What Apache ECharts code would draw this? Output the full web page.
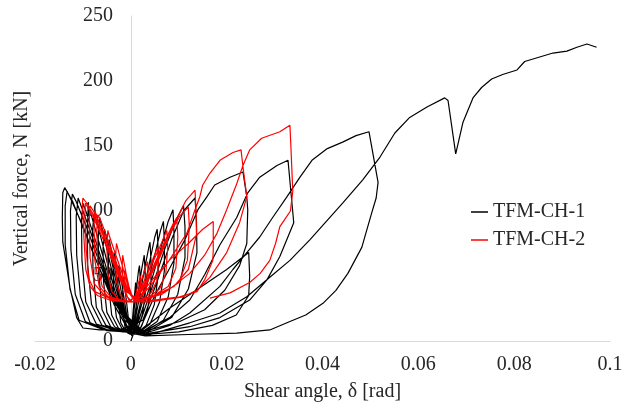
<!DOCTYPE html>
<html>
<head>
<meta charset="utf-8">
<script src="https://cdn.jsdelivr.net/npm/echarts@6/dist/echarts.min.js"></script>
<style>
html,body{margin:0;padding:0;background:#fff;}
#chart{width:629px;height:405px;}
</style>
</head>
<body>
<div id="chart"></div>
<script>
// ---- DATA (shear angle [rad], vertical force [kN]) ----
const seriesNames = ['TFM-CH-1', 'TFM-CH-2'];

// TFM-CH-1: small cycles
const ch1Small = [
[0,0],[0.0005,5],
[0.0003,15],[0.0007,32],[0.001,45],[0.0012,36],[0.0011,22],[0.0007,10],[0.0002,4],
[-0.0004,14],[-0.0009,30],[-0.0015,48],[-0.0017,38],[-0.0016,22],[-0.0012,10],[-0.0006,6],[0,5],
[0.0005,18],[0.0011,38],[0.0016,54],[0.0018,58],[0.002,46],[0.002,30],[0.0015,15],[0.0008,7],[0.0002,5],
[-0.0007,16],[-0.0015,35],[-0.0022,52],[-0.0025,58],[-0.0027,48],[-0.0026,30],[-0.0021,14],[-0.0012,8],[-0.0003,6],
[0.0006,14],[0.0014,34],[0.0022,54],[0.0028,66],[0.003,52],[0.003,36],[0.0024,20],[0.0014,9],[0.0004,5],
[-0.001,18],[-0.002,38],[-0.003,58],[-0.0035,68],[-0.0037,56],[-0.0036,36],[-0.003,18],[-0.0018,9],[-0.0005,6],
[0.0008,14],[0.0018,34],[0.003,58],[0.0037,71],[0.004,76],[0.0042,62],[0.0042,44],[0.0035,24],[0.0022,11],[0.0008,6],
[-0.0012,18],[-0.0025,40],[-0.0038,64],[-0.0045,78],[-0.0047,64],[-0.0046,42],[-0.004,20],[-0.0026,10],[-0.001,7],
[0.001,14],[0.0025,36],[0.004,62],[0.005,80],[0.0055,86],[0.0057,70],[0.0057,50],[0.0049,28],[0.0032,12],[0.0012,6],
[-0.0015,20],[-0.003,44],[-0.0045,70],[-0.0055,86],[-0.0058,72],[-0.0057,46],[-0.005,22],[-0.0034,11],[-0.0014,7]
];

// TFM-CH-1: medium cycles
const ch1Mid = [
[0.0012,14],[0.003,38],[0.005,66],[0.0062,85],[0.0068,92],[0.007,76],[0.007,54],[0.006,30],[0.004,13],[0.0015,6],
[-0.0018,22],[-0.0036,48],[-0.0052,74],[-0.0062,90],[-0.0065,95],[-0.0068,80],[-0.0067,52],[-0.006,24],[-0.0042,11],[-0.0018,7],
[0.0015,14],[0.0038,40],[0.006,68],[0.0078,92],[0.0088,101],[0.009,84],[0.009,60],[0.0078,34],[0.0055,15],[0.002,6],
[-0.002,22],[-0.0042,50],[-0.006,76],[-0.0072,93],[-0.0077,98],[-0.008,84],[-0.0079,56],[-0.0072,26],[-0.0052,12],[-0.0022,8],
[0.002,15],[0.0045,42],[0.007,70],[0.0093,92],[0.011,104],[0.0113,88],[0.0113,64],[0.0098,36],[0.0068,16],[0.0025,6],
[-0.0024,24],[-0.0048,52],[-0.0068,78],[-0.0082,96],[-0.0088,102],[-0.0091,88],[-0.009,58],[-0.0082,28],[-0.006,12],[-0.0026,8],
[0.0025,16],[0.0055,46],[0.0085,78],[0.011,100],[0.0134,110],[0.0137,92],[0.0138,68],[0.012,40],[0.0085,18],[0.003,6],
[-0.0028,26],[-0.0055,56],[-0.0078,82],[-0.0094,100],[-0.01,106],[-0.0103,92],[-0.0102,62],[-0.0094,30],[-0.0072,13],[-0.003,8]
];

// TFM-CH-1: large cycles
const ch1Large = [
[0.002,10],[0.005,35],[0.0081,56],[0.0113,78],[0.014,101],[0.0159,111],[0.0175,120],[0.0207,126],[0.0234,130],
[0.0242,111],[0.0244,101],[0.0242,75],[0.0227,58],[0.0196,39],[0.0154,24],[0.0102,15],[0.004,8.5],[0,6],
[-0.003,28],[-0.006,58],[-0.0086,86],[-0.0104,104],[-0.011,110],[-0.0114,96],[-0.0113,66],[-0.0105,34],[-0.0085,14],[-0.0045,8],[-0.001,7],
[0.002,8],[0.008,25],[0.014,40],[0.02,55],[0.0246,68],[0.0248,50],[0.0246,35],[0.022,20],[0.017,12],[0.01,7],[0.003,5],
[-0.0032,28],[-0.0065,60],[-0.0095,90],[-0.0115,108],[-0.0122,113],[-0.0126,100],[-0.0125,70],[-0.0116,36],[-0.0095,15],[-0.005,8],[-0.001,7],
[0.002,7],[0.004,10],[0.0081,18],[0.0123,31.5],[0.0154,51],[0.0186,74],[0.0221,95],[0.0244,114],[0.0269,126],[0.0305,135],[0.0328,139],
[0.034,91],[0.0311,65],[0.0284,47],[0.0248,31.5],[0.0186,18],[0.0123,11],[0.004,6],[0,5],
[-0.0035,28],[-0.007,60],[-0.0104,92],[-0.0124,108],[-0.0133,115],[-0.0137,104],[-0.0137,74],[-0.0127,40],[-0.0108,16],[-0.006,9],[-0.0015,7],
[0.003,6],[0.0081,12],[0.0123,21.5],[0.0186,42],[0.0213,55],[0.0242,68],[0.0269,80],[0.0296,95],[0.0326,111],[0.0353,126],[0.0378,139],[0.041,148],[0.0442,153],[0.047,158],[0.0497,161],
[0.0516,122],[0.0512,110],[0.0503,99],[0.0482,72],[0.0453,52],[0.0428,39],[0.0401,29],[0.0365,20],[0.0332,15],[0.029,8.5],[0.0221,6],[0.012,5],[0.003,4],
[-0.0013,16],[-0.005,43],[-0.0075,64],[-0.0105,92],[-0.0121,107],[-0.0138,118],[-0.0142,114],[-0.0143,95],[-0.0142,76],[-0.0127,41],[-0.0113,18],[-0.01,10],[-0.0065,8.5],[-0.0023,8.5],[0,6]
];

// TFM-CH-1: final loading
const ch1Envelope = [
[0.003,4],[0.0123,14],[0.0186,21.5],[0.0242,34],[0.029,49],[0.0332,62],[0.0374,78],[0.0442,106],[0.0484,124],[0.052,141.5],[0.0551,160],[0.0582,172],[0.0618,180],[0.0655,187],
[0.0662,185],[0.0678,144],[0.0693,168],[0.0714,187],[0.0732,195],[0.0753,201.5],[0.0776,205],[0.0806,208.5],[0.0822,215],[0.0881,221.5],[0.091,223],[0.0931,226],[0.0952,228.5],[0.0972,226]
];

// TFM-CH-2: small cycles
const ch2Small = [
[0.0005,30],
[0.0012,38],[0.0017,46],[0.002,50],[0.0021,44],[0.0018,36],[0.0012,32],
[0.0003,34],[-0.0004,42],[-0.0009,50],[-0.0012,55],[-0.0013,48],[-0.0011,38],[-0.0005,32],[0.0005,30],
[0.0015,38],[0.0025,50],[0.0032,58],[0.0035,61],[0.0036,52],[0.0032,40],[0.0022,34],[0.001,31],
[0,36],[-0.0008,48],[-0.0014,60],[-0.0017,66],[-0.0018,58],[-0.0016,44],[-0.001,35],[0,31],
[0.0018,38],[0.0035,52],[0.0048,65],[0.0056,72],[0.0058,62],[0.0054,46],[0.0042,37],[0.0022,32],[0.001,31],
[-0.0003,38],[-0.0015,54],[-0.0025,68],[-0.003,75],[-0.0032,64],[-0.003,46],[-0.0022,35],[-0.001,31],[0.0005,30],
[0.002,40],[0.004,56],[0.006,72],[0.0075,85],[0.0077,72],[0.0073,52],[0.006,40],[0.0035,33],[0.0012,31],
[-0.0005,38],[-0.002,54],[-0.0035,70],[-0.0045,81],[-0.0048,85],[-0.005,74],[-0.0048,52],[-0.004,38],[-0.0025,32],[-0.0005,30],
[0.002,38],[0.0045,56],[0.007,76],[0.0088,90],[0.0096,95],[0.0098,80],[0.0094,56],[0.0078,42],[0.0048,35],[0.0015,31],
[-0.0008,38],[-0.0028,58],[-0.0048,78],[-0.0062,92],[-0.0069,97],[-0.0071,86],[-0.0069,60],[-0.006,42],[-0.0042,34],[-0.0015,31],[0.0005,30]
];

// TFM-CH-2: large cycles
const ch2Large = [
[0.0025,40],[0.005,58],[0.0078,80],[0.0102,96],[0.012,103],[0.0122,88],[0.0118,62],[0.01,45],[0.0065,36],[0.002,31],
[-0.001,38],[-0.0035,62],[-0.006,86],[-0.0078,100],[-0.0085,104],[-0.0087,92],[-0.0085,64],[-0.0076,44],[-0.0055,35],[-0.002,31],[0.0005,30],
[0.003,42],[0.006,64],[0.009,90],[0.0115,108],[0.0134,116],[0.0136,100],[0.0137,82],[0.012,55],[0.009,42],[0.005,35],[0.001,31],
[-0.002,48],[-0.005,75],[-0.0075,95],[-0.009,105],[-0.01,110],[-0.0101,106],[-0.0098,80],[-0.0094,55],[-0.0085,42],[-0.007,35],[-0.004,31],[-0.001,30],[0.001,30],
[0.004,42],[0.008,62],[0.0117,83],[0.0134,101],[0.0144,111],[0.015,120],[0.0165,129],[0.0186,139],[0.0213,145],[0.023,147],[0.0234,134],[0.0242,111],[0.0227,91],[0.02,68],[0.0165,49],[0.0138,39],[0.0109,34],[0.004,30],[0.001,30],
[-0.002,45],[-0.005,72],[-0.0078,95],[-0.0092,104],[-0.0095,106],[-0.0096,96],[-0.0093,70],[-0.0088,48],[-0.0075,38],[-0.004,32],[0.001,30],
[0.004,45],[0.008,62],[0.012,75],[0.015,86],[0.0172,92],[0.0172,70],[0.0171,62],[0.0154,47],[0.0138,38],[0.0102,34],[0.004,31],[0.001,30],
[-0.002,46],[-0.0045,70],[-0.0065,90],[-0.0075,100],[-0.0077,88],[-0.0075,62],[-0.0066,42],[-0.0045,33],[-0.0015,30],[0.001,30],
[0.004,33],[0.0081,40],[0.0123,52],[0.0154,66],[0.018,83],[0.02,101],[0.0221,121],[0.0234,135],[0.0248,147],[0.0273,156],[0.0311,161],[0.0332,166],
[0.0334,150],[0.0338,115],[0.0333,100],[0.0322,94],[0.0311,88],[0.0302,75],[0.029,62],[0.027,52],[0.0248,45],[0.0207,37],[0.0165,33]
];

const xTickLabels = ['-0.02','0','0.02','0.04','0.06','0.08','0.1'];

// ---- CHART ----
const ch1 = ch1Small.concat(ch1Mid, ch1Large, ch1Envelope);
const ch2 = ch2Small.concat(ch2Large);
const FONT = 'Liberation Serif';
const TXT = '#262626';

const chart = echarts.init(document.getElementById('chart'), null, {renderer: 'canvas'});
chart.setOption({
  animation: false,
  backgroundColor: '#fff',
  grid: {left: 35, right: 19, top: 16, bottom: 64, containLabel: false, outerBoundsMode: 'none'},
  legend: {
    orient: 'vertical', left: 466, top: 197, itemGap: 8,
    icon: 'rect', itemWidth: 17, itemHeight: 1.5,
    textStyle: {fontFamily: FONT, fontSize: 20, color: TXT},
    data: seriesNames
  },
  xAxis: {
    type: 'value', min: -0.02, max: 0.1, interval: 0.02,
    name: 'Shear angle, δ [rad]', nameLocation: 'middle', nameGap: 41,
    nameTextStyle: {fontFamily: FONT, fontSize: 20, color: TXT},
    axisLine: {show: true, onZero: true, lineStyle: {color: '#d9d9d9', width: 1}},
    axisTick: {show: false}, splitLine: {show: false},
    axisLabel: {
      fontFamily: FONT, fontSize: 20, color: TXT, margin: 14,
      formatter: function (v) { return xTickLabels[Math.round((v + 0.02) / 0.02)]; }
    }
  },
  yAxis: {
    type: 'value', min: 0, max: 250, interval: 50,
    name: 'Vertical force, N [kN]', nameLocation: 'middle', nameGap: 3, nameRotate: 90,
    nameTextStyle: {fontFamily: FONT, fontSize: 20, color: TXT},
    axisLine: {show: true, onZero: true, lineStyle: {color: '#d9d9d9', width: 1}},
    axisTick: {show: false}, splitLine: {show: false},
    axisLabel: {fontFamily: FONT, fontSize: 20, color: TXT, margin: -78}
  },
  series: [
    {name: seriesNames[0], type: 'line', data: ch1, showSymbol: false, symbol: 'none',
     lineStyle: {color: '#000', width: 1.2}, itemStyle: {color: '#000'}, z: 2},
    {name: seriesNames[1], type: 'line', data: ch2, showSymbol: false, symbol: 'none',
     lineStyle: {color: '#ff0000', width: 1.2}, itemStyle: {color: '#ff0000'}, z: 3}
  ]
});
</script>
</body>
</html>
